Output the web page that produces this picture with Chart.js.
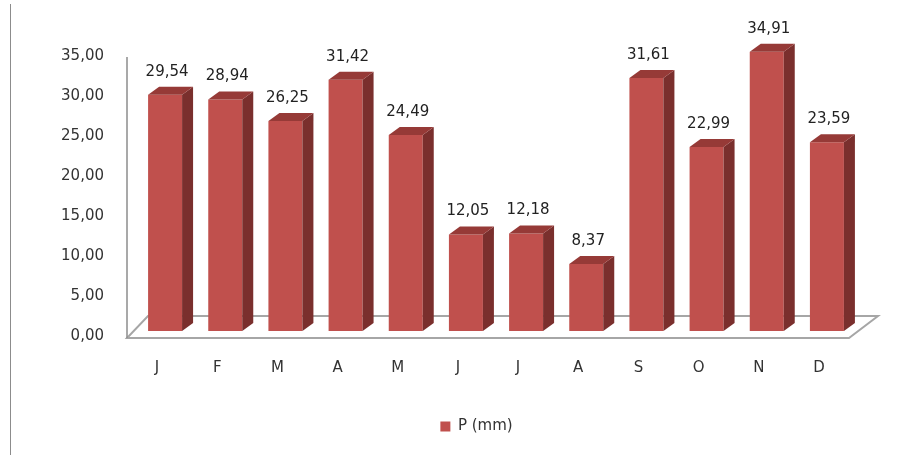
<!DOCTYPE html>
<html>
<head>
<meta charset="utf-8">
<script src="https://cdn.jsdelivr.net/npm/chart.js@4/dist/chart.umd.min.js"></script>
<style>
  html, body { margin: 0; padding: 0; background: #fff; }
  #wrap { width: 917px; height: 455px; position: relative; }
</style>
</head>
<body>
<div id="wrap"><canvas id="chart"></canvas></div>
<script>
/* ============================
   DATA
   ============================ */
const months = ['J','F','M','A','M','J','J','A','S','O','N','D'];
const precipitation = [29.54, 28.94, 26.25, 31.42, 24.49, 12.05, 12.18, 8.37, 31.61, 22.99, 34.91, 23.59];
const seriesLabel = 'P (mm)';
const yMin = 0, yMax = 35, yStep = 5;

const FRONT = '#c0504d';
const TOP = '#963a37';
const SIDE = '#7a2f2d';
const FONT = { family: 'DejaVu Sans', size: 15 };
const fmt = v => v.toFixed(2).replace('.', ',');

// fake 3D: side + top faces, floor, frame lines
const depth = { dx: 11, dy: 8 };
const excel3d = {
  id: 'excel3d',
  afterLayout(chart) {
    // legend sits a bit right of centre in the original
    if (chart.legend) {
      chart.legend.left += 48;
      chart.legend.right += 48;
    }
  },
  beforeDraw(chart) {
    const { ctx } = chart;
    ctx.save();
    ctx.strokeStyle = '#8c8c8c';
    ctx.lineWidth = 1;
    ctx.beginPath();
    ctx.moveTo(10.5, 4);
    ctx.lineTo(10.5, chart.height);
    ctx.stroke();
    ctx.restore();
  },
  beforeDatasetsDraw(chart) {
    const { ctx, chartArea: a, scales: { y } } = chart;
    const base = y.getPixelForValue(0);
    const fl = a.left - 8, fr = a.right - 8, fy = base + 7;
    const bl = a.left + 13, br = a.right + 21, by = base - 15;
    ctx.save();
    ctx.strokeStyle = '#a6a6a6';
    ctx.lineWidth = 2;
    ctx.beginPath();
    ctx.moveTo(fl, fy); ctx.lineTo(fr, fy); ctx.lineTo(br, by); ctx.lineTo(bl, by); ctx.closePath();
    ctx.stroke();
    // vertical axis line
    ctx.strokeStyle = '#8c8c8c';
    ctx.lineWidth = 1.5;
    ctx.beginPath();
    ctx.moveTo(fl, y.getPixelForValue(yMax) + 6);
    ctx.lineTo(fl, fy);
    ctx.stroke();
    ctx.restore();
  },
  afterDatasetsDraw(chart) {
    const { ctx } = chart;
    const meta = chart.getDatasetMeta(0);
    const { dx, dy } = depth;
    ctx.save();
    meta.data.forEach((bar, i) => {
      const { x, y, base, width } = bar.getProps(['x', 'y', 'base', 'width'], true);
      const l = x - width / 2, r = x + width / 2;
      ctx.fillStyle = SIDE;
      ctx.beginPath();
      ctx.moveTo(r, y); ctx.lineTo(r + dx, y - dy); ctx.lineTo(r + dx, base - dy); ctx.lineTo(r, base);
      ctx.closePath(); ctx.fill();
      ctx.fillStyle = TOP;
      ctx.beginPath();
      ctx.moveTo(l, y); ctx.lineTo(r, y); ctx.lineTo(r + dx, y - dy); ctx.lineTo(l + dx, y - dy);
      ctx.closePath(); ctx.fill();
      // value label
      ctx.fillStyle = '#222';
      ctx.font = `${FONT.size}px ${FONT.family}`;
      ctx.textAlign = 'center';
      ctx.textBaseline = 'middle';
      ctx.fillText(fmt(precipitation[i]), x + 2, y - 23);
    });
    ctx.restore();
  }
};

new Chart(document.getElementById('chart'), {
  type: 'bar',
  data: {
    labels: months,
    datasets: [{
      label: seriesLabel,
      data: precipitation,
      backgroundColor: FRONT,
      borderWidth: 0,
      categoryPercentage: 1,
      barPercentage: 0.565
    }]
  },
  options: {
    responsive: true,
    maintainAspectRatio: false,
    animation: false,
    layout: { padding: { left: 0, right: 60, top: 51, bottom: 11 } },
    plugins: {
      tooltip: { enabled: false },
      legend: {
        position: 'bottom',
        labels: { color: '#333', font: FONT, boxWidth: 10, boxHeight: 10, padding: 10 }
      }
    },
    scales: {
      x: {
        grid: { display: false, drawTicks: false },
        border: { display: false },
        ticks: { color: '#333', font: FONT, padding: 28, labelOffset: -8 },
        afterFit: s => { s.height = 78; }
      },
      y: {
        min: yMin, max: yMax,
        grid: { display: false, drawTicks: false },
        border: { display: false },
        ticks: { stepSize: yStep, color: '#333', font: FONT, padding: 31, labelOffset: 5, callback: v => fmt(v) },
        afterFit: s => { s.width = 135; }
      }
    }
  },
  plugins: [excel3d]
});
</script>
</body>
</html>
